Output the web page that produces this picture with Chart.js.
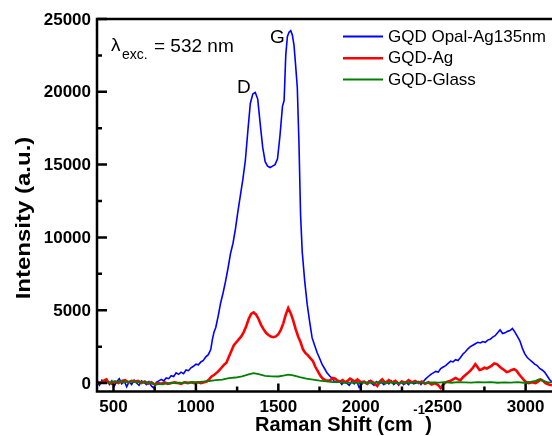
<!DOCTYPE html>
<html>
<head>
<meta charset="utf-8">
<script src="https://cdn.jsdelivr.net/npm/chart.js@4.4.1/dist/chart.umd.min.js"></script>
<style>
  html, body { margin: 0; padding: 0; background: #fff; }
  #wrap { width: 552px; height: 436px; }
</style>
</head>
<body>
<div id="wrap"><canvas id="raman" width="552" height="436"></canvas></div>
<script>
// Raman spectra (x = Raman shift in cm-1, y = intensity a.u.)
const opalShift = [400, 415, 430, 445, 460, 475, 490, 505, 520, 535, 550, 565, 580, 595, 610, 625, 640, 655, 670, 685,
  700, 715, 730, 745, 760, 775, 790, 805, 820, 835, 850, 865, 880, 895, 910, 925, 940, 955, 970, 985,
  1000, 1015, 1030, 1045, 1060, 1075, 1090, 1100, 1110, 1120, 1135, 1150, 1165, 1180, 1195, 1210, 1225, 1240, 1255, 1270,
  1285, 1300, 1315, 1330, 1345, 1360, 1375, 1390, 1405, 1420, 1435, 1450, 1465, 1480, 1495, 1510, 1525, 1535, 1545, 1555,
  1565, 1575, 1585, 1595, 1605, 1615, 1625, 1635, 1645, 1660, 1675, 1690, 1705, 1720, 1735, 1750, 1765, 1780, 1795, 1810,
  1825, 1840, 1855, 1870, 1885, 1900, 1915, 1930, 1945, 1960, 1975, 1990, 2005, 2020, 2035, 2050, 2065, 2080, 2095, 2110,
  2125, 2140, 2155, 2170, 2185, 2200, 2215, 2230, 2245, 2260, 2275, 2290, 2305, 2320, 2335, 2350, 2365, 2380, 2395, 2410,
  2425, 2440, 2455, 2470, 2485, 2500, 2515, 2530, 2545, 2560, 2575, 2590, 2605, 2620, 2635, 2650, 2665, 2680, 2695, 2710,
  2725, 2740, 2755, 2770, 2785, 2800, 2815, 2830, 2845, 2860, 2875, 2890, 2905, 2920, 2935, 2950, 2965, 2980, 2995, 3010,
  3025, 3040, 3055, 3070, 3085, 3100, 3115, 3130, 3145, 3160];
const opalCounts = [100, -150, 200, 0, 250, -100, 150, -200, 100, 300, -50, 150, -250, 100, -100, 200, 0, -150, 150, 50,
  -100, 100, -200, -350, 50, 150, 250, 150, 350, 300, 500, 450, 700, 600, 750, 650, 900, 850, 1050, 1150,
  1300, 1250, 1450, 1550, 1800, 1950, 2300, 3000, 3500, 3800, 4600, 5500, 6200, 7000, 7900, 8900, 9600, 10600, 11800, 12900,
  14000, 15300, 17300, 19200, 19850, 19950, 19500, 17800, 16200, 15200, 14900, 14800, 14900, 15000, 15400, 17000, 19000, 19400, 22500, 23800,
  24100, 24200, 23900, 23200, 21800, 20300, 16500, 11500, 9000, 7000, 5400, 4200, 3100, 2600, 2100, 1700, 1300, 1000, 700, 500,
  350, 100, 50, 150, -100, 100, 0, -150, 100, -50, 150, -300, -100, 100, -50, 150, 0, -150, 100, -50,
  50, -100, 100, -50, 150, -100, 50, -150, 100, -100, 50, -100, 100, -50, 0, 100, -100, 100, 300, 450,
  600, 700, 800, 750, 1000, 1100, 1200, 1350, 1500, 1450, 1600, 1550, 1750, 2000, 2150, 2350, 2500, 2600, 2700, 2800,
  2750, 2850, 2800, 2950, 3000, 3150, 3250, 3450, 3650, 3400, 3450, 3550, 3600, 3750, 3500, 3200, 2900, 2400, 2000, 1750,
  1600, 1450, 1300, 1200, 1000, 900, 750, 500, 250, 50];

const agShift = [400, 420, 440, 455, 470, 490, 510, 530, 550, 570, 590, 610, 630, 650, 670, 690, 710, 730, 750, 770,
  790, 810, 830, 850, 870, 890, 910, 930, 950, 970, 990, 1010, 1030, 1050, 1065, 1080, 1095, 1110, 1125, 1140,
  1155, 1170, 1185, 1200, 1215, 1230, 1245, 1260, 1275, 1290, 1305, 1320, 1335, 1350, 1365, 1380, 1395, 1410, 1425, 1440,
  1455, 1470, 1485, 1500, 1515, 1530, 1545, 1560, 1575, 1590, 1605, 1620, 1635, 1650, 1665, 1680, 1695, 1710, 1725, 1740,
  1755, 1770, 1785, 1800, 1815, 1830, 1845, 1860, 1875, 1890, 1905, 1920, 1935, 1950, 1965, 1980, 2000, 2020, 2040, 2060,
  2080, 2100, 2115, 2130, 2150, 2170, 2190, 2210, 2230, 2250, 2270, 2290, 2310, 2330, 2350, 2370, 2390, 2410, 2430, 2450,
  2470, 2485, 2500, 2515, 2530, 2545, 2560, 2575, 2590, 2605, 2620, 2635, 2650, 2665, 2680, 2695, 2705, 2720, 2735, 2750,
  2765, 2780, 2795, 2810, 2825, 2840, 2855, 2870, 2885, 2900, 2915, 2930, 2945, 2960, 2975, 2990, 3005, 3020, 3040, 3060,
  3075, 3090, 3105, 3120, 3140, 3160];
const agCounts = [100, 0, 150, 250, 50, -50, 100, 0, 150, 200, 50, 150, 100, 150, 0, 100, -50, 50, -100, 0,
  -50, 50, -50, 0, 50, 0, -50, 50, 0, 50, 0, 50, 0, 50, 100, 250, 450, 550, 700, 850,
  1050, 1250, 1400, 1800, 2200, 2600, 2800, 3000, 3200, 3500, 3900, 4400, 4750, 4850, 4700, 4400, 4000, 3700, 3450, 3300,
  3200, 3150, 3200, 3350, 3650, 4100, 4700, 5150, 4800, 4300, 3700, 3200, 2800, 2300, 2050, 1900, 1700, 1500, 1100, 800,
  500, 300, 200, 150, 200, 350, 300, 150, 100, 200, 50, 150, 300, 200, 100, 250, 50, 100, -50, 150,
  0, -200, 100, 250, 0, 200, 50, 150, -50, 100, 0, 200, 50, 150, 0, 100, -50, 50, -100, 0,
  -150, -350, -100, 50, 100, 150, 250, 350, 250, 200, 400, 550, 700, 850, 1050, 1300, 1150, 900, 950, 1050,
  1000, 1100, 1200, 1350, 1300, 1150, 1000, 900, 750, 800, 900, 950, 850, 600, 400, 200, 50, 0, 50, 0,
  100, 250, 150, 0, -100, -150];

const glassShift = [400, 420, 440, 460, 480, 500, 520, 540, 560, 580, 600, 620, 640, 660, 680, 700, 720, 740, 760, 780,
  800, 820, 840, 860, 880, 900, 920, 940, 960, 980, 1000, 1040, 1080, 1120, 1160, 1200, 1240, 1280, 1320, 1350,
  1380, 1420, 1460, 1500, 1530, 1560, 1590, 1630, 1670, 1710, 1750, 1790, 1830, 1870, 1910, 1950, 1990, 2030, 2070, 2110,
  2150, 2190, 2230, 2270, 2310, 2350, 2390, 2430, 2470, 2510, 2550, 2590, 2630, 2670, 2710, 2750, 2790, 2830, 2870, 2910,
  2950, 2990, 3030, 3060, 3080, 3100, 3130, 3160];
const glassCounts = [50, 10, 80, 20, 60, 110, 60, 120, 40, 90, 60, 110, 40, 90, 30, 70, 0, -40, -110, -60,
  -80, -20, -40, 10, -20, 30, 10, 60, 20, 70, 40, 100, 130, 200, 230, 340, 380, 460, 600, 680,
  620, 500, 460, 450, 510, 580, 520, 400, 310, 240, 160, 110, 60, 70, 10, 50, 0, 40, 10, 60,
  20, 50, 0, 40, 20, 60, 10, 50, 30, 70, 20, 60, 40, 30, 70, 40, 60, 20, 50, 30,
  60, 20, 80, 150, 250, 180, 70, 40];

const yMajor = [0, 5000, 10000, 15000, 20000, 25000];
const yMinor = [2500, 7500, 12500, 17500, 22500];
const xMajor = [500, 1000, 1500, 2000, 2500, 3000];
const xMinor = [750, 1250, 1750, 2250, 2750];

const legendNames = ["GQD Opal-Ag135nm", "GQD-Ag", "GQD-Glass"];
const lineColors = ["#0000ff", "#ff0000", "#008000"];

function toPoints(xs, ys) {
  return xs.map((x, i) => ({ x: x, y: ys[i] }));
}

const FONT = "'Liberation Sans', Arial, sans-serif";

// axes, ticks, labels, legend and annotations drawn on top of the plot
const framePlugin = {
  id: "frame",
  afterDraw(chart) {
    const ctx = chart.ctx;
    const area = chart.chartArea;
    const xs = chart.scales.x;
    const ys = chart.scales.y;
    ctx.save();
    ctx.strokeStyle = "#000";
    ctx.fillStyle = "#000";
    ctx.lineWidth = 2.5;
    ctx.lineCap = "butt";

    // frame lines
    ctx.beginPath();
    ctx.moveTo(area.left, area.top);
    ctx.lineTo(area.right, area.top);
    ctx.moveTo(area.left, area.top - 1.25);
    ctx.lineTo(area.left, area.bottom + 1.25);
    ctx.moveTo(area.left, area.bottom);
    ctx.lineTo(area.right, area.bottom);
    ctx.stroke();

    // inward ticks
    ctx.beginPath();
    yMajor.forEach((v) => {
      const p = ys.getPixelForValue(v);
      ctx.moveTo(area.left, p);
      ctx.lineTo(area.left + 10, p);
    });
    yMinor.forEach((v) => {
      const p = ys.getPixelForValue(v);
      ctx.moveTo(area.left, p);
      ctx.lineTo(area.left + 5, p);
    });
    xMajor.forEach((v) => {
      const p = xs.getPixelForValue(v);
      ctx.moveTo(p, area.bottom);
      ctx.lineTo(p, area.bottom - 8);
    });
    xMinor.forEach((v) => {
      const p = xs.getPixelForValue(v);
      ctx.moveTo(p, area.bottom);
      ctx.lineTo(p, area.bottom - 5);
    });
    ctx.stroke();

    // tick labels
    ctx.font = "bold 17px " + FONT;
    ctx.textAlign = "right";
    ctx.textBaseline = "middle";
    yMajor.forEach((v) => {
      ctx.fillText(String(v), area.left - 6, ys.getPixelForValue(v) + 1);
    });
    ctx.textAlign = "center";
    ctx.textBaseline = "alphabetic";
    xMajor.forEach((v) => {
      ctx.fillText(String(v), xs.getPixelForValue(v), 412);
    });

    // axis titles
    ctx.font = "bold 20px " + FONT;
    ctx.textAlign = "left";
    const t1 = "Raman Shift (cm";
    let tx = 255;
    ctx.fillText(t1, tx, 431);
    tx += ctx.measureText(t1).width;
    ctx.font = "bold 13px " + FONT;
    ctx.fillText("-1", tx + 0.5, 414);
    tx += ctx.measureText("-1").width + 1;
    ctx.font = "bold 20px " + FONT;
    ctx.fillText(")", tx, 431);

    ctx.save();
    ctx.translate(30, 218);
    ctx.rotate(-Math.PI / 2);
    ctx.scale(1, 0.88);
    ctx.textAlign = "center";
    ctx.font = "bold 24px " + FONT;
    ctx.fillText("Intensity (a.u.)", 0, 0);
    ctx.restore();

    // legend
    ctx.font = "17px " + FONT;
    ctx.textAlign = "left";
    ctx.textBaseline = "middle";
    const rows = [36.5, 58.3, 79.5];
    legendNames.forEach((name, i) => {
      ctx.strokeStyle = lineColors[i];
      ctx.lineWidth = i === 1 ? 2.5 : 1.8;
      ctx.beginPath();
      ctx.moveTo(343, rows[i]);
      ctx.lineTo(383, rows[i]);
      ctx.stroke();
      ctx.fillStyle = "#000";
      ctx.fillText(name, 388, rows[i] + 0.5);
    });

    // annotations
    ctx.textBaseline = "alphabetic";
    ctx.font = "19px " + FONT;
    ctx.fillText("\u03bb", 111, 51);
    ctx.font = "14px " + FONT;
    ctx.fillText("exc.", 122, 59);
    ctx.font = "19px " + FONT;
    ctx.fillText("= 532 nm", 154, 52);
    ctx.fillText("D", 237, 93);
    ctx.fillText("G", 270, 43);

    ctx.restore();
  }
};

new Chart(document.getElementById("raman"), {
  type: "line",
  data: {
    datasets: [
      { label: legendNames[0], data: toPoints(opalShift, opalCounts), borderColor: lineColors[0], borderWidth: 1.6, order: 3 },
      { label: legendNames[1], data: toPoints(agShift, agCounts), borderColor: lineColors[1], borderWidth: 2.6, order: 2 },
      { label: legendNames[2], data: toPoints(glassShift, glassCounts), borderColor: lineColors[2], borderWidth: 1.8, order: 1 }
    ]
  },
  options: {
    responsive: false,
    animation: false,
    devicePixelRatio: 1,
    layout: { padding: { left: 97, right: 0, top: 19, bottom: 44.5 } },
    elements: { point: { radius: 0 }, line: { tension: 0 } },
    plugins: { legend: { display: false }, tooltip: { enabled: false } },
    scales: {
      x: { type: "linear", min: 400, max: 3160, display: false },
      y: { type: "linear", min: -580, max: 25000, display: false }
    }
  },
  plugins: [framePlugin]
});
</script>
</body>
</html>
